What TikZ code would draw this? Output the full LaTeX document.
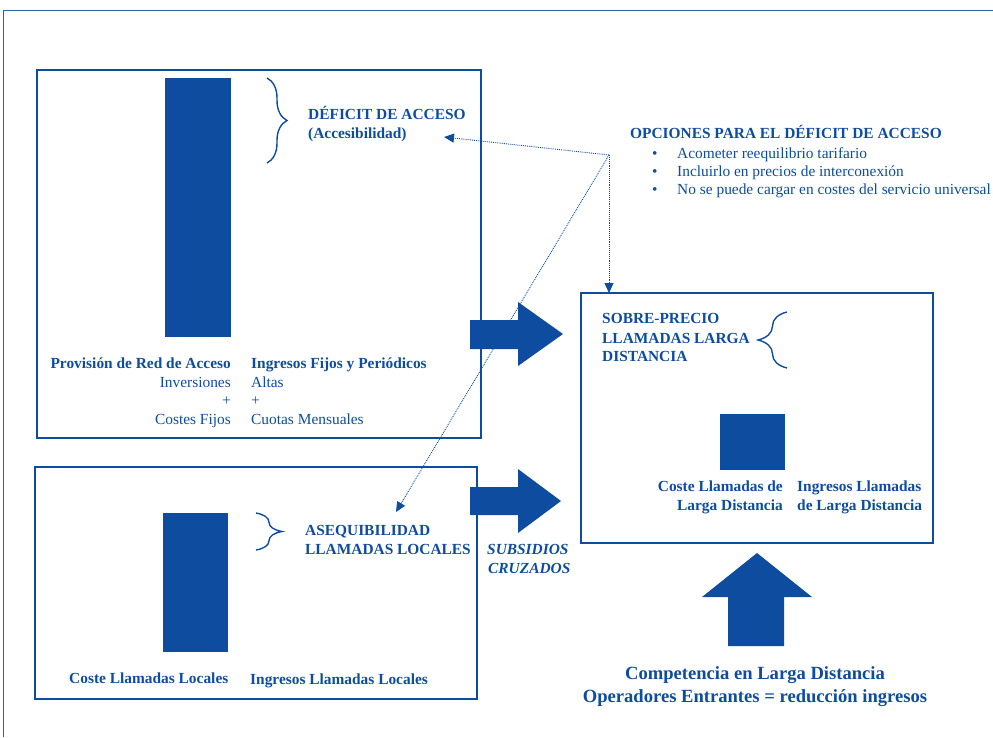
\documentclass[tikz,border=0pt]{standalone}
\usepackage{fontspec}
\setmainfont{Liberation Serif}
\usetikzlibrary{arrows.meta,decorations.pathreplacing}
\definecolor{ink}{HTML}{0D4C9F}
\definecolor{rule}{HTML}{2A62B0}

\begin{document}
\begin{tikzpicture}[x=1pt,y=-1pt,
  panel/.style={draw=ink, line width=1.3pt, rectangle, inner sep=0pt, outer sep=0pt, anchor=north west},
  bar/.style={fill=ink, draw=none, rectangle, inner sep=0pt, outer sep=0pt, anchor=north west},
  lbl/.style={text=ink, font=\fontsize{15.4}{18.6}\selectfont\bfseries, inner sep=0pt},
  txt/.style={text=ink, font=\fontsize{15.4}{18.6}\selectfont, inner sep=0pt},
  slant/.style={text=ink, font=\fontsize{15.4}{18.6}\selectfont\bfseries\itshape, inner sep=0pt},
  big/.style={text=ink, font=\fontsize{18.6}{23}\selectfont\bfseries, inner sep=0pt},
  link/.style={draw=ink, densely dotted, line width=0.9pt, -{Triangle[length=10pt,width=9pt]}},
  bigarrow/.style={fill=ink, draw=none},
  curly/.style={draw=ink, line width=1.4pt, decorate, decoration={brace, amplitude=#1}}
]
\useasboundingbox (0,0) rectangle (993,737);

% page frame
\draw[rule, line width=1pt] (3,737) -- (3,10) -- (993,10);

% --- access network panel ---
\node[panel, minimum width=444pt, minimum height=368pt] (accbox) at (37,70) {};
\node[bar, minimum width=66pt, minimum height=259pt] (accbar) at (165,78) {};
\draw[curly=20pt] (267,78) -- (267,163);
\node[lbl, anchor=base west] (deficit) at (308,119) {DÉFICIT DE ACCESO};
\node[lbl, anchor=base west] (accesib) at (308,138) {(Accesibilidad)};
\coordinate (accesibtip) at (444,137);

\node[lbl, anchor=base east] (provision) at (231,368) {Provisión de Red de Acceso};
\node[txt, anchor=base east] (inversiones) at (231,387) {Inversiones};
\node[txt, anchor=base east] (plusA) at (231,405) {+};
\node[txt, anchor=base east] (costesfijos) at (231,424) {Costes Fijos};
\node[lbl, anchor=base west] (ingresosfijos) at (251,368) {Ingresos Fijos y Periódicos};
\node[txt, anchor=base west] (altas) at (251,387) {Altas};
\node[txt, anchor=base west] (plusB) at (251,405) {+};
\node[txt, anchor=base west] (cuotas) at (251,424) {Cuotas Mensuales};

% --- local calls panel ---
\node[panel, minimum width=442pt, minimum height=232pt] (locbox) at (35,467) {};
\node[bar, minimum width=65pt, minimum height=139pt] (locbar) at (163,513) {};
\draw[curly=26pt] (256,513) -- (256,550);
\node[lbl, anchor=base west] (asequ) at (305,535) {ASEQUIBILIDAD};
\node[lbl, anchor=base west] (llamloc) at (305,554) {LLAMADAS LOCALES};
\coordinate (asequtip) at (396,512);
\node[lbl, anchor=base west] (costeloc) at (69,683) {Coste Llamadas Locales};
\node[lbl, anchor=base west] (ingrloc) at (250,684) {Ingresos Llamadas Locales};

% --- long distance panel ---
\node[panel, minimum width=352pt, minimum height=250pt] (ldbox) at (581,293) {};
\node[lbl, anchor=base west] (sobre) at (602,323) {SOBRE-PRECIO};
\node[lbl, anchor=base west] (llamlarga) at (602,343) {LLAMADAS LARGA};
\node[lbl, anchor=base west] (distancia) at (602,361) {DISTANCIA};
\draw[curly=29pt] (787,368) -- (787,312);
\node[bar, minimum width=65pt, minimum height=56pt] (ldbar) at (720,414) {};
\node[lbl, anchor=base east] (costeldA) at (783,491) {Coste Llamadas de};
\node[lbl, anchor=base east] (costeldB) at (783,510) {Larga Distancia};
\node[lbl, anchor=base west] (ingrldA) at (797,491) {Ingresos Llamadas};
\node[lbl, anchor=base west] (ingrldB) at (797,510) {de Larga Distancia};

% --- options for the access deficit ---
\node[lbl, anchor=base west] (opciones) at (630,138) {OPCIONES PARA EL DÉFICIT DE ACCESO};
\node[txt, anchor=base west] (dotA) at (652,158) {•};
\node[txt, anchor=base west] (optA) at (677,158) {Acometer reequilibrio tarifario};
\node[txt, anchor=base west] (dotB) at (652,176) {•};
\node[txt, anchor=base west] (optB) at (677,176) {Incluirlo en precios de interconexión};
\node[txt, anchor=base west] (dotC) at (652,194) {•};
\node[txt, anchor=base west] (optC) at (677,194) {No se puede cargar en costes del servicio universal};

% dotted links from the options
\coordinate (hub) at (609,155);
\draw[link] (hub) -- (accesibtip);
\draw[link] (hub) -- (hub |- ldbox.north);
\draw[link] (hub) -- (asequtip);

% --- cross subsidy arrows ---
\fill[bigarrow] (470,320) -- (518,320) -- (518,302) -- (563,334) -- (518,366) -- (518,349) -- (470,349) -- cycle;
\fill[bigarrow] (470,487) -- (518,487) -- (518,469) -- (561,501) -- (518,533) -- (518,515) -- (470,515) -- cycle;
\node[slant, anchor=base west] (subsidios) at (487,554) {SUBSIDIOS};
\node[slant, anchor=base west] (cruzados) at (488,573) {CRUZADOS};

% --- competition arrow ---
\fill[bigarrow] (728,646) -- (728,597) -- (702,597) -- (757,553) -- (812,597) -- (784,597) -- (784,646) -- cycle;
\node[big, anchor=base] (compet) at (755,679) {Competencia en Larga Distancia};
\node[big, anchor=base] (operad) at (755,702) {Operadores Entrantes = reducción ingresos};
\end{tikzpicture}
\end{document}
